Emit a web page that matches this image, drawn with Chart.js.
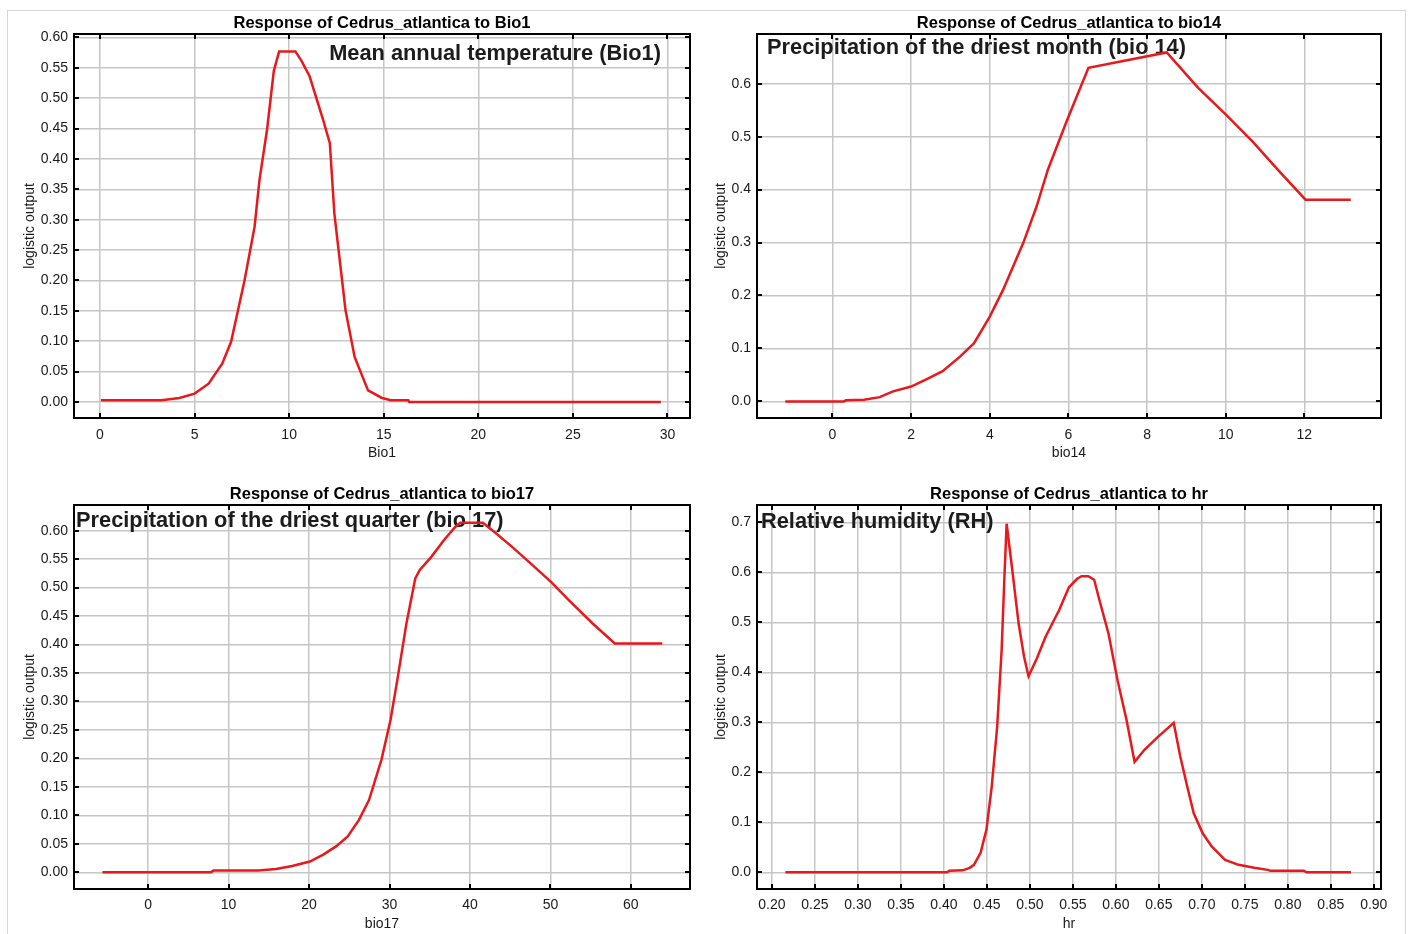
<!DOCTYPE html>
<html>
<head>
<meta charset="utf-8">
<script src="https://cdn.jsdelivr.net/npm/chart.js@4.4.1/dist/chart.umd.min.js"></script>
<style>
  body { margin: 0; background: #fff; width: 1408px; height: 934px; overflow: hidden; position: relative; }
  #frame { position: absolute; left: 7px; top: 10px; width: 1397px; height: 940px; border: 1px solid #d6d6d6; }
  canvas { position: absolute; }
</style>
</head>
<body>
<div id="frame"></div>
<canvas id="bio1Chart" width="704" height="467" style="left:0;top:0"></canvas>
<canvas id="bio14Chart" width="704" height="467" style="left:704px;top:0"></canvas>
<canvas id="bio17Chart" width="704" height="467" style="left:0;top:467px"></canvas>
<canvas id="hrChart" width="704" height="467" style="left:704px;top:467px"></canvas>
<script>
// Response curves
const bio1X = [0.05, 3.25, 4.2, 5.0, 5.74, 6.46, 6.93, 7.64, 8.17, 8.43, 8.83, 9.19, 9.47, 10.33, 10.66, 11.08, 11.8, 12.15, 12.39, 12.98, 13.46, 14.17, 14.88, 15.36, 16.3, 16.35, 29.65];
const bio1Y = [0.003, 0.003, 0.0066, 0.0137, 0.030, 0.063, 0.099, 0.20, 0.288, 0.365, 0.448, 0.545, 0.577, 0.577, 0.561, 0.536, 0.464, 0.426, 0.31, 0.151, 0.074, 0.019, 0.007, 0.003, 0.003, 0.0, 0.0];

const bio14X = [-1.2, 0.29, 0.34, 0.8, 1.2, 1.54, 2.0, 2.45, 2.8, 3.25, 3.6, 4.0, 4.34, 4.85, 5.19, 5.48, 5.97, 6.51, 8.5, 9.3, 10.0, 10.68, 11.37, 12.03, 13.18];
const bio14Y = [0.0, 0.0, 0.002, 0.003, 0.008, 0.019, 0.028, 0.044, 0.057, 0.085, 0.110, 0.16, 0.211, 0.299, 0.368, 0.438, 0.532, 0.630, 0.659, 0.592, 0.542, 0.491, 0.434, 0.381, 0.381];

const bio17X = [-5.69, 7.8, 8.1, 13.7, 15.9, 17.9, 20.1, 21.76, 23.4, 24.8, 26.2, 27.45, 29.0, 30.13, 30.97, 32.1, 33.2, 33.76, 35.2, 36.8, 38.2, 38.8, 41.6, 43.0, 45.2, 47.5, 50.0, 52.5, 55.25, 58.0, 63.9];
const bio17Y = [0.0, 0.0, 0.003, 0.003, 0.006, 0.011, 0.019, 0.031, 0.046, 0.063, 0.092, 0.127, 0.198, 0.268, 0.338, 0.437, 0.516, 0.531, 0.554, 0.584, 0.607, 0.614, 0.614, 0.598, 0.572, 0.543, 0.511, 0.475, 0.437, 0.402, 0.402];

const hrX = [0.2157, 0.4037, 0.4063, 0.4219, 0.43, 0.435, 0.4427, 0.4495, 0.4557, 0.462, 0.4672, 0.4703, 0.473, 0.4792, 0.487, 0.4933, 0.4985, 0.508, 0.5183, 0.534, 0.5455, 0.555, 0.5602, 0.568, 0.5748, 0.581, 0.5915, 0.602, 0.6124, 0.6218, 0.6333, 0.649, 0.6673, 0.675, 0.683, 0.6906, 0.701, 0.7115, 0.7271, 0.7428, 0.761, 0.7767, 0.78, 0.8187, 0.822, 0.8735];
const hrY = [0.0, 0.0, 0.003, 0.004, 0.009, 0.015, 0.039, 0.085, 0.172, 0.291, 0.444, 0.584, 0.697, 0.610, 0.497, 0.431, 0.392, 0.427, 0.471, 0.524, 0.570, 0.587, 0.592, 0.592, 0.585, 0.544, 0.477, 0.384, 0.305, 0.221, 0.245, 0.271, 0.299, 0.231, 0.172, 0.118, 0.078, 0.052, 0.025, 0.015, 0.009, 0.005, 0.003, 0.003, 0.0, 0.0];

// Tick values
const bio1XTicks = [0, 5, 10, 15, 20, 25, 30];
const bio14XTicks = [0, 2, 4, 6, 8, 10, 12];
const bio17XTicks = [0, 10, 20, 30, 40, 50, 60];
const hrXTicks = [0.20, 0.25, 0.30, 0.35, 0.40, 0.45, 0.50, 0.55, 0.60, 0.65, 0.70, 0.75, 0.80, 0.85, 0.90];
const y05Ticks = [0, 0.05, 0.10, 0.15, 0.20, 0.25, 0.30, 0.35, 0.40, 0.45, 0.50, 0.55, 0.60];
const y1Ticks6 = [0, 0.1, 0.2, 0.3, 0.4, 0.5, 0.6];
const y1Ticks7 = [0, 0.1, 0.2, 0.3, 0.4, 0.5, 0.6, 0.7];

const FONT = '"Liberation Sans", Arial, sans-serif';

// Frame, inward tick marks, panel title and in-plot label
const panelDecor = {
    id: 'panelDecor',
    beforeDatasetsDraw(chart, args, opts) {
        const ctx = chart.ctx;
        ctx.save();
        ctx.font = 'bold 21.8px ' + FONT;
        ctx.fillStyle = '#1c1c1c';
        ctx.textAlign = opts.noteAlign;
        ctx.textBaseline = 'alphabetic';
        ctx.fillText(opts.note, opts.noteX, opts.noteY);
        ctx.restore();
    },
    afterDraw(chart, args, opts) {
        const { ctx, chartArea: a, scales: { x, y } } = chart;
        ctx.save();
        ctx.strokeStyle = '#000';
        ctx.lineWidth = 2;
        ctx.strokeRect(a.left, a.top, a.right - a.left, a.bottom - a.top);
        ctx.beginPath();
        x.ticks.forEach(t => {
            const px = Math.round(x.getPixelForValue(t.value));
            ctx.moveTo(px, a.top); ctx.lineTo(px, a.top + 5);
            ctx.moveTo(px, a.bottom); ctx.lineTo(px, a.bottom - 5);
        });
        y.ticks.forEach(t => {
            const py = Math.round(y.getPixelForValue(t.value));
            ctx.moveTo(a.left, py); ctx.lineTo(a.left + 5, py);
            ctx.moveTo(a.right, py); ctx.lineTo(a.right - 5, py);
        });
        ctx.stroke();
        ctx.font = 'bold 16.5px ' + FONT;
        ctx.fillStyle = '#000';
        ctx.textAlign = 'center';
        ctx.textBaseline = 'alphabetic';
        ctx.fillText(opts.title, (a.left + a.right) / 2, opts.titleY);
        ctx.restore();
    }
};

function makeChart(id, xs, ys, xTicks, yTicks, p) {
    const ctx = document.getElementById(id).getContext('2d');
    return new Chart(ctx, {
        type: 'line',
        data: {
            datasets: [{
                data: xs.map((v, i) => ({ x: v, y: ys[i] })),
                borderColor: '#e8191c',
                borderWidth: 2.5,
                pointRadius: 0,
                tension: 0,
                fill: false
            }]
        },
        options: {
            responsive: false,
            animation: false,
            layout: { padding: { left: 0, top: p.top, right: 704 - p.right, bottom: 0 } },
            plugins: {
                legend: { display: false },
                tooltip: { enabled: false },
                panelDecor: { title: p.title, titleY: p.titleY, note: p.note, noteX: p.noteX, noteY: p.noteY, noteAlign: p.noteAlign }
            },
            scales: {
                x: {
                    type: 'linear',
                    min: p.xMin, max: p.xMax,
                    afterBuildTicks: s => { s.ticks = xTicks.map(v => ({ value: v })); },
                    afterFit: s => { s.height = 467 - p.bottom; s.paddingLeft = 0; s.paddingRight = 0; },
                    grid: { color: '#c6c6c6', lineWidth: 1.5, drawTicks: false },
                    border: { display: false },
                    ticks: {
                        color: '#1a1a1a', padding: p.xPad, maxRotation: 0, autoSkip: false,
                        font: { family: FONT, size: 14 },
                        callback: v => v.toFixed(p.xDec)
                    },
                    title: { display: true, text: p.xTitle, color: '#1a1a1a', padding: { top: 0, bottom: p.xTitlePad }, font: { family: FONT, size: 14 } }
                },
                y: {
                    min: p.yMin, max: p.yMax,
                    afterBuildTicks: s => { s.ticks = yTicks.map(v => ({ value: v })); },
                    afterFit: s => { s.width = p.left; s.paddingTop = 0; s.paddingBottom = 0; },
                    grid: { color: '#c6c6c6', lineWidth: 1.5, drawTicks: false },
                    border: { display: false },
                    ticks: {
                        color: '#1a1a1a', padding: 6, autoSkip: false,
                        font: { family: FONT, size: 14 },
                        callback: v => v.toFixed(p.yDec)
                    },
                    title: { display: true, text: 'logistic output', color: '#1a1a1a', padding: { top: p.yTitlePad, bottom: 0 }, font: { family: FONT, size: 14 } }
                }
            }
        },
        plugins: [panelDecor]
    });
}

document.addEventListener('DOMContentLoaded', () => {
    makeChart('bio1Chart', bio1X, bio1Y, bio1XTicks, y05Ticks, {
        left: 74, right: 690, top: 34, bottom: 418,
        xMin: -1.374, xMax: 31.19, yMin: -0.0264, yMax: 0.6056, xDec: 0, yDec: 2,
        xTitle: 'Bio1', xPad: 9, xTitlePad: 5, yTitlePad: 22,
        title: 'Response of Cedrus_atlantica to Bio1', titleY: 28,
        note: 'Mean annual temperature (Bio1)', noteX: 661, noteY: 60, noteAlign: 'right'
    });
    makeChart('bio14Chart', bio14X, bio14Y, bio14XTicks, y1Ticks6, {
        left: 53, right: 677, top: 34, bottom: 418,
        xMin: -1.92, xMax: 13.95, yMin: -0.0314, yMax: 0.6939, xDec: 0, yDec: 1,
        xTitle: 'bio14', xPad: 9, xTitlePad: 5, yTitlePad: 9,
        title: 'Response of Cedrus_atlantica to bio14', titleY: 28,
        note: 'Precipitation of the driest month (bio 14)', noteX: 63, noteY: 54, noteAlign: 'left'
    });
    makeChart('bio17Chart', bio17X, bio17Y, bio17XTicks, y05Ticks, {
        left: 74, right: 690, top: 38, bottom: 422,
        xMin: -9.22, xMax: 67.35, yMin: -0.0293, yMax: 0.6451, xDec: 0, yDec: 2,
        xTitle: 'bio17', xPad: 8, xTitlePad: 1, yTitlePad: 22,
        title: 'Response of Cedrus_atlantica to bio17', titleY: 32,
        note: 'Precipitation of the driest quarter (bio 17)', noteX: 76, noteY: 60, noteAlign: 'left'
    });
    makeChart('hrChart', hrX, hrY, hrXTicks, y1Ticks7, {
        left: 53, right: 677, top: 38, bottom: 422,
        xMin: 0.1827, xMax: 0.9084, yMin: -0.0333, yMax: 0.7345, xDec: 2, yDec: 1,
        xTitle: 'hr', xPad: 8, xTitlePad: 1, yTitlePad: 9,
        title: 'Response of Cedrus_atlantica to hr', titleY: 32,
        note: 'Relative humidity (RH)', noteX: 57, noteY: 61, noteAlign: 'left'
    });
});
</script>
</body>
</html>
